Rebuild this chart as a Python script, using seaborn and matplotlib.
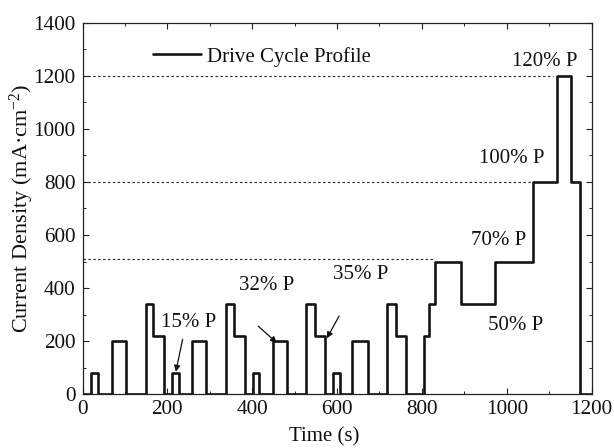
import matplotlib
matplotlib.use("Agg")
import matplotlib.pyplot as plt
from matplotlib.ticker import MultipleLocator
import seaborn as sns
import pandas as pd

# Step change times (s) and current density after each change (mA/cm^2)
time_s = [0, 20, 37, 69, 103, 149, 167, 192, 212, 227, 257, 291, 338, 358, 382,
          401, 417, 448, 481, 526, 548, 572, 591, 607, 636, 672, 717, 738, 762,
          806, 817, 831, 892, 972, 1063, 1119, 1151, 1172, 1200]
current = [0, 80, 0, 200, 0, 340, 220, 0, 80, 0, 200, 0, 340, 220, 0,
           80, 0, 200, 0, 340, 220, 0, 80, 0, 200, 0, 340, 220, 0,
           220, 340, 500, 340, 500, 800, 1200, 800, 0, 0]

# Reference (dotted) power levels and where they end
ref_levels = [1200, 800, 508]
ref_ends = [1108, 1060, 831]

# Annotation labels and positions
ann_labels = ["120% P", "100% P", "70% P", "50% P", "35% P", "32% P", "15% P"]
ann_x = [1090, 1012, 982, 1022, 656, 434, 251]
ann_y = [1253, 889, 581, 261, 453, 408, 270]

# Arrows: (start) -> (tip)
arrow_start = [(236, 207), (414, 257), (605, 295)]
arrow_tip = [(220, 85), (458, 194), (576, 211)]

df = pd.DataFrame({"Time": time_s, "Current": current})

sns.set_theme(style="ticks")
plt.rcParams["font.family"] = ["Liberation Serif", "DejaVu Serif"]
plt.rcParams["mathtext.fontset"] = "custom"
plt.rcParams["mathtext.rm"] = "Liberation Serif"
plt.rcParams["mathtext.it"] = "Liberation Serif:italic"

fig = plt.figure(figsize=(6.14, 4.48), dpi=100)
ax = fig.add_axes([0.1344, 0.1199, 0.8290, 0.8294])

sns.lineplot(data=df, x="Time", y="Current", drawstyle="steps-post",
             color="#141414", lw=1.9, estimator=None, sort=False,
             label="Drive Cycle Profile", ax=ax)

for lvl, end in zip(ref_levels, ref_ends):
    ax.plot([0, end], [lvl, lvl], color="#222222", lw=0.8,
            linestyle=(0, (2.2, 2.2)))

for lab, x, y in zip(ann_labels, ann_x, ann_y):
    ax.text(x, y, lab, ha="center", va="center", fontsize=15, color="#111111")

for s, t in zip(arrow_start, arrow_tip):
    ax.annotate("", xy=t, xytext=s,
                arrowprops=dict(arrowstyle="-|>", lw=0.9, color="#111111",
                                mutation_scale=9, shrinkA=0, shrinkB=0))

ax.set_xlim(0, 1200)
ax.set_ylim(0, 1400)
ax.xaxis.set_major_locator(MultipleLocator(200))
ax.xaxis.set_minor_locator(MultipleLocator(100))
ax.yaxis.set_major_locator(MultipleLocator(200))
ax.yaxis.set_minor_locator(MultipleLocator(100))
ax.tick_params(which="both", direction="in", top=True, right=True,
               colors="#222222", labelcolor="#111111")
ax.tick_params(which="major", length=4.5, width=0.8, labelsize=15.2, pad=5)
ax.tick_params(which="minor", length=2.2, width=0.7)
ax.tick_params(axis="x", which="major", pad=4)
for sp in ax.spines.values():
    sp.set_visible(True)
    sp.set_linewidth(0.9)
    sp.set_color("#222222")

ax.set_xlabel("Time (s)", fontsize=15, color="#111111")
ax.set_ylabel("Current Density (mA·cm$^{-2}$)", fontsize=16, color="#111111")
ax.xaxis.set_label_coords(0.475, -0.090)
ax.yaxis.set_label_coords(-0.092, 0.5)

leg = ax.legend(loc="upper left", bbox_to_anchor=(0.138, 0.935),
                frameon=False, borderaxespad=0, borderpad=0,
                handlelength=2.3, handletextpad=0.3, fontsize=15)
for txt in leg.get_texts():
    txt.set_color("#111111")

ax.set_facecolor("white")
fig.patch.set_facecolor("white")
fig.savefig("out.png", dpi=100)
